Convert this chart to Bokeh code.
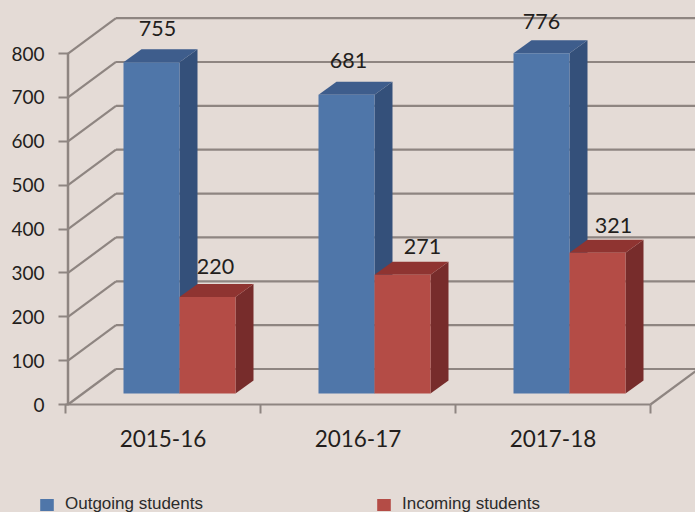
from bokeh.plotting import figure
from bokeh.models import (ColumnDataSource, Range1d, FixedTicker, Legend, LegendItem)
from bokeh.core.properties import value
from bokeh.embed import file_html
from bokeh.resources import INLINE

# Student mobility per academic year
years = ["2015-16", "2016-17", "2017-18"]
outgoing = [755, 681, 776]
incoming = [220, 271, 321]
y_ticks = [0, 100, 200, 300, 400, 500, 600, 700, 800]

# Oblique projection, expressed in data units
PX_X = 195.0        # pixels per category
PX_Y = 0.4386       # pixels per student
WALL_DX, WALL_DY = 48 / PX_X, 35.5 / PX_Y
BAR_DX, BAR_DY = 18 / PX_X, 13 / PX_Y
BAR_LIFT = 11 / PX_Y
BAR_START = 58 / PX_X
BAR_W = 56 / PX_X
AXIS_X = 2.5 / PX_X
FLOOR_END = 3.0
X_MAX = 630 / PX_X

BG = "#e4dbd6"
GRID = "#8e8581"
TEXT = "#231e1c"
LABEL_FONT = value("Lato")

# The frame fills the page; both axes are pinned to the zero lines inside it
p = figure(width=695, height=512, output_backend="svg", toolbar_location=None,
           x_range=Range1d(-65 / PX_X, X_MAX), y_range=Range1d(-108 / PX_Y, 404 / PX_Y),
           min_border=0,
           background_fill_color=BG, border_fill_color=BG, outline_line_color=None)
p.grid.visible = False

# Back wall and side wall gridlines
for t in y_ticks:
    p.line([WALL_DX + AXIS_X, X_MAX], [t + WALL_DY, t + WALL_DY], line_color=GRID, line_width=2.2)
    p.line([AXIS_X, WALL_DX + AXIS_X], [t, t + WALL_DY], line_color=GRID, line_width=2.2)
p.line([AXIS_X, AXIS_X], [0, 800], line_color=GRID, line_width=2.5)
p.line([FLOOR_END, FLOOR_END + WALL_DX], [0, WALL_DY], line_color=GRID, line_width=2.2)


def draw_series(values, slot, front, side, top):
    """Draw one 3-D column per category: side and top faces, then the front."""
    lefts = [i + BAR_START + slot * BAR_W for i in range(len(values))]
    rights = [x + BAR_W for x in lefts]
    tops = [v + BAR_LIFT for v in values]
    side_xs = [[r, r + BAR_DX, r + BAR_DX, r] for r in rights]
    side_ys = [[BAR_LIFT, BAR_LIFT + BAR_DY, t + BAR_DY, t] for t in tops]
    top_xs = [[l, l + BAR_DX, r + BAR_DX, r] for l, r in zip(lefts, rights)]
    top_ys = [[t, t + BAR_DY, t + BAR_DY, t] for t in tops]
    p.patches(side_xs, side_ys, fill_color=side, line_color=None)
    p.patches(top_xs, top_ys, fill_color=top, line_color=None)
    src = ColumnDataSource(dict(left=lefts, right=rights, top=tops, bottom=[BAR_LIFT] * len(values)))
    return p.quad(left="left", right="right", top="top", bottom="bottom", source=src,
                  fill_color=front, line_color=None)


blue = draw_series(outgoing, 0, "#4f76a9", "#34507a", "#3e5d8c")
red = draw_series(incoming, 1, "#b44c46", "#772c2b", "#8f3431")

# Value labels sit freely above the columns, nudged by hand
for values, slot, dxs, dys in (
    (outgoing, 0, [6, 2, 0], [21, 21, 19]),
    (incoming, 1, [8, 20, 16], [18, 15, 14]),
):
    src = ColumnDataSource(dict(
        x=[i + BAR_START + (slot + 0.5) * BAR_W for i in range(len(values))],
        y=[v + BAR_LIFT + BAR_DY for v in values],
        text=[str(v) for v in values],
        dx=dxs, dy=[-d for d in dys],
    ))
    p.text(x="x", y="y", text="text", x_offset="dx", y_offset="dy", source=src,
           text_align="center", text_baseline="middle", text_color=TEXT,
           text_font=LABEL_FONT, text_font_size="21.5px")

# Axes
p.yaxis.fixed_location = 0
p.yaxis.bounds = (0, 800)
p.yaxis.ticker = FixedTicker(ticks=y_ticks)
p.yaxis.axis_line_color = None
p.yaxis.major_tick_line_color = GRID
p.yaxis.major_tick_line_width = 2
p.yaxis.major_tick_out = 7
p.yaxis.major_tick_in = 3
p.yaxis.minor_tick_line_color = None
p.yaxis.major_label_standoff = 14
p.yaxis.major_label_text_font = "Lato"
p.yaxis.major_label_text_font_size = "19px"
p.yaxis.major_label_text_color = TEXT

centers = [i + 0.5 for i in range(len(years))]
p.xaxis.fixed_location = 0
p.xaxis.ticker = FixedTicker(ticks=centers, minor_ticks=list(range(len(years) + 1)))
p.xaxis.major_label_overrides = dict(zip(centers, years))
p.xaxis.bounds = (0, FLOOR_END)
p.xaxis.axis_line_color = GRID
p.xaxis.axis_line_width = 2
p.xaxis.major_tick_line_color = None
p.xaxis.minor_tick_line_color = GRID
p.xaxis.minor_tick_line_width = 2
p.xaxis.minor_tick_out = 9
p.xaxis.minor_tick_in = 0
p.xaxis.major_label_standoff = 16
p.xaxis.major_label_text_font = "Lato"
p.xaxis.major_label_text_font_size = "22.5px"
p.xaxis.major_label_text_color = TEXT

legend = Legend(items=[LegendItem(label="Outgoing students", renderers=[blue]),
                       LegendItem(label="Incoming students", renderers=[red])],
                orientation="horizontal", location=(38, -2),
                background_fill_alpha=0, border_line_color=None,
                glyph_width=17, glyph_height=15, label_standoff=10, spacing=172,
                padding=0, margin=0,
                label_text_font="Liberation Sans", label_text_font_size="17px",
                label_text_color="#2b2b2b")
p.add_layout(legend, "center")

html = file_html(p, INLINE).replace("<body>", f'<body style="margin:0;background:{BG}">')
open("out.html", "w").write(html)
